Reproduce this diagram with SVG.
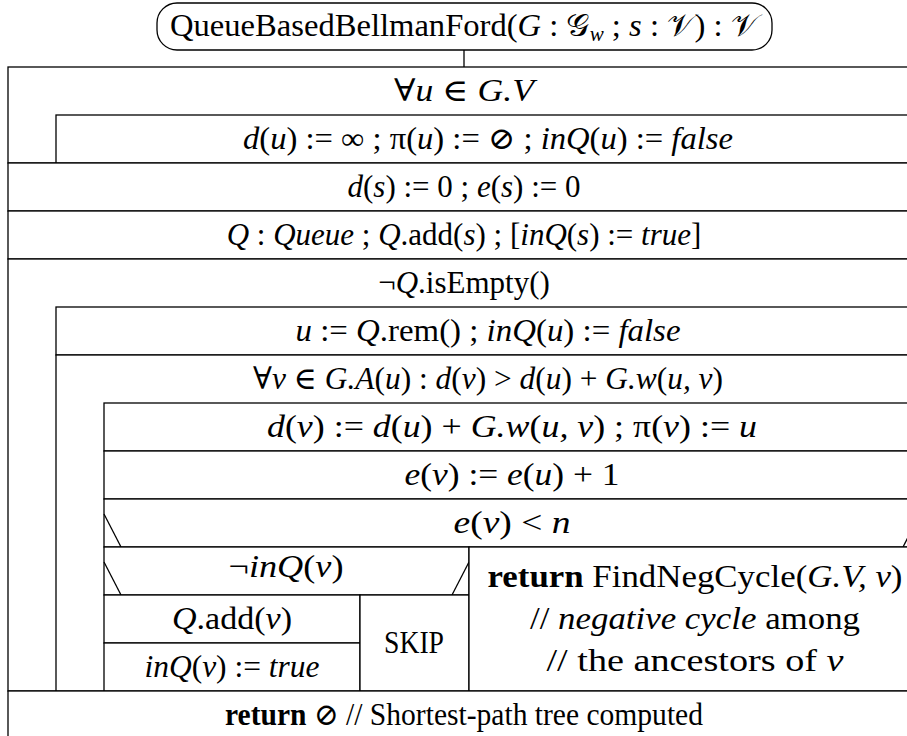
<svg xmlns="http://www.w3.org/2000/svg" width="907" height="736" viewBox="0 0 907 736">
<style>
.t{font-family:"Liberation Serif","DejaVu Serif",serif;font-size:31px;fill:#000;text-anchor:middle}
.i{font-style:italic}
.b{font-weight:bold}
.s{font-size:20px;font-style:italic}
.box{fill:#fff;stroke:#000;stroke-width:1.3}
.ln{stroke:#000;stroke-width:1.3;fill:none}
</style>
<rect x="0" y="0" width="907" height="736" fill="#fff"/>
<g id="connectors">
<line class="ln" x1="464" y1="50" x2="464" y2="67"/>
</g>
<g id="title">
<rect class="box" x="157" y="3" width="615" height="47" rx="20" ry="20"/>
<text class="t" x="464" y="36" textLength="588" lengthAdjust="spacingAndGlyphs">QueueBasedBellmanFord(<tspan class="i">G</tspan> : 𝒢<tspan class="s" dy="5">w</tspan><tspan dy="-5"> ; </tspan><tspan class="i">s</tspan> : 𝒱) : 𝒱</text>
</g>
<g id="loop-u">
<rect class="box" x="8" y="67" width="912" height="96"/>
<text class="t" x="464" y="101" textLength="140" lengthAdjust="spacingAndGlyphs">∀<tspan class="i">u</tspan> ∈ <tspan class="i">G.V</tspan></text>
</g>
<g id="init-u">
<rect class="box" x="56" y="115" width="864" height="48"/>
<text class="t" x="488" y="149" textLength="490" lengthAdjust="spacingAndGlyphs"><tspan class="i">d</tspan>(<tspan class="i">u</tspan>) := ∞ ; π(<tspan class="i">u</tspan>) := ⊘ ; <tspan class="i">inQ</tspan>(<tspan class="i">u</tspan>) := <tspan class="i">false</tspan></text>
</g>
<g id="init-s">
<rect class="box" x="8" y="163" width="912" height="48"/>
<text class="t" x="464" y="197"><tspan class="i">d</tspan>(<tspan class="i">s</tspan>) := 0 ; <tspan class="i">e</tspan>(<tspan class="i">s</tspan>) := 0</text>
</g>
<g id="init-q">
<rect class="box" x="8" y="211" width="912" height="48"/>
<text class="t" x="464" y="245"><tspan class="i">Q</tspan> : <tspan class="i">Queue</tspan> ; <tspan class="i">Q</tspan>.add(<tspan class="i">s</tspan>) ; [<tspan class="i">inQ</tspan>(<tspan class="i">s</tspan>) := <tspan class="i">true</tspan>]</text>
</g>
<g id="while">
<rect class="box" x="8" y="259" width="912" height="432"/>
<text class="t" x="464" y="293">¬<tspan class="i">Q</tspan>.isEmpty()</text>
</g>
<g id="rem">
<rect class="box" x="56" y="307" width="864" height="48"/>
<text class="t" x="488" y="341" textLength="385" lengthAdjust="spacingAndGlyphs"><tspan class="i">u</tspan> := <tspan class="i">Q</tspan>.rem() ; <tspan class="i">inQ</tspan>(<tspan class="i">u</tspan>) := <tspan class="i">false</tspan></text>
</g>
<g id="loop-v">
<rect class="box" x="56" y="355" width="864" height="336"/>
<text class="t" x="488" y="389" textLength="470" lengthAdjust="spacingAndGlyphs">∀<tspan class="i">v</tspan> ∈ <tspan class="i">G.A</tspan>(<tspan class="i">u</tspan>) : <tspan class="i">d</tspan>(<tspan class="i">v</tspan>) &gt; <tspan class="i">d</tspan>(<tspan class="i">u</tspan>) + <tspan class="i">G.w</tspan>(<tspan class="i">u, v</tspan>)</text>
</g>
<g id="relax">
<rect class="box" x="104" y="403" width="816" height="48"/>
<text class="t" x="512" y="437" textLength="490" lengthAdjust="spacingAndGlyphs"><tspan class="i">d</tspan>(<tspan class="i">v</tspan>) := <tspan class="i">d</tspan>(<tspan class="i">u</tspan>) + <tspan class="i">G.w</tspan>(<tspan class="i">u, v</tspan>) ; π(<tspan class="i">v</tspan>) := <tspan class="i">u</tspan></text>
</g>
<g id="count">
<rect class="box" x="104" y="451" width="816" height="48"/>
<text class="t" x="512" y="485" textLength="215" lengthAdjust="spacingAndGlyphs"><tspan class="i">e</tspan>(<tspan class="i">v</tspan>) := <tspan class="i">e</tspan>(<tspan class="i">u</tspan>) + 1</text>
</g>
<g id="if-n">
<rect class="box" x="104" y="499" width="816" height="48"/>
<line class="ln" x1="104" y1="514" x2="121" y2="547"/>
<line class="ln" x1="920" y1="514" x2="903" y2="547"/>
<text class="t" x="512" y="533" textLength="117" lengthAdjust="spacingAndGlyphs"><tspan class="i">e</tspan>(<tspan class="i">v</tspan>) &lt; <tspan class="i">n</tspan></text>
</g>
<g id="if-inq">
<rect class="box" x="104" y="547" width="365" height="48"/>
<line class="ln" x1="104" y1="562" x2="121" y2="595"/>
<line class="ln" x1="469" y1="562" x2="452" y2="595"/>
<text class="t" x="286" y="577" textLength="115" lengthAdjust="spacingAndGlyphs">¬<tspan class="i">inQ</tspan>(<tspan class="i">v</tspan>)</text>
</g>
<g id="add">
<rect class="box" x="104" y="595" width="256" height="48"/>
<text class="t" x="232" y="629" textLength="120" lengthAdjust="spacingAndGlyphs"><tspan class="i">Q</tspan>.add(<tspan class="i">v</tspan>)</text>
</g>
<g id="mark">
<rect class="box" x="104" y="643" width="256" height="48"/>
<text class="t" x="232" y="677" textLength="175" lengthAdjust="spacingAndGlyphs"><tspan class="i">inQ</tspan>(<tspan class="i">v</tspan>) := <tspan class="i">true</tspan></text>
</g>
<g id="skip">
<rect class="box" x="360" y="595" width="109" height="96"/>
<text class="t" x="414" y="653" textLength="60" lengthAdjust="spacingAndGlyphs">SKIP</text>
</g>
<g id="neg">
<rect class="box" x="469" y="547" width="451" height="144"/>
<text class="t" x="695" y="587" textLength="415" lengthAdjust="spacingAndGlyphs"><tspan class="b">return</tspan> FindNegCycle(<tspan class="i">G.V, v</tspan>)</text>
<text class="t" x="695" y="629" textLength="330" lengthAdjust="spacingAndGlyphs">// <tspan class="i">negative cycle</tspan> among</text>
<text class="t" x="695" y="671" textLength="297" lengthAdjust="spacingAndGlyphs">// the ancestors of <tspan class="i">v</tspan></text>
</g>
<g id="ret">
<rect class="box" x="8" y="691" width="912" height="48"/>
<text class="t" x="464" y="725" textLength="478" lengthAdjust="spacingAndGlyphs"><tspan class="b">return</tspan> ⊘ // Shortest-path tree computed</text>
</g>
</svg>
